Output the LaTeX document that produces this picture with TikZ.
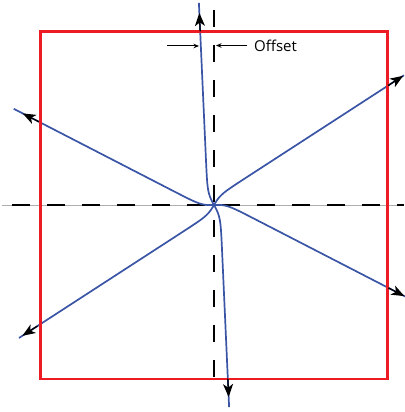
\documentclass[tikz,border=0pt]{standalone}
\usepackage{fontspec}
\setmainfont{Open Sans}
\usetikzlibrary{arrows.meta}
\definecolor{rbox}{RGB}{237,28,36}
\definecolor{cblue}{RGB}{58,84,166}
\definecolor{lgray}{RGB}{175,175,175}
% named point on an offset curve: name ex ey d s u
\newcommand\setcpt[6]{\coordinate (#1) at ({214+(#6)*#2+#4*tanh(max(-4,min(4,(#6)/#5)))*#3},{205+(#6)*#3-#4*tanh(max(-4,min(4,(#6)/#5)))*#2});}
\newcommand\offcurve[6]{%
  \draw[curve] plot[domain=#5:#6, samples=320] ({214+\x*#1+#3*tanh(max(-4,min(4,\x/#4)))*#2},{205+\x*#2-#3*tanh(max(-4,min(4,\x/#4)))*#1});}
\begin{document}
\begin{tikzpicture}[x=1pt,y=-1pt,
  curve/.style={cblue, line width=1.7pt},
  tipline/.style={black, line width=1.3pt, -{Stealth[length=13pt,width=10pt,inset=3.5pt]}},
  offarrow/.style={black, line width=1pt, -{Stealth[length=5.5pt,width=4.5pt]}},
  axisdash/.style={black, line width=1.6pt},
  frame/.style={rbox, line width=2.2pt},
  lbl/.style={font=\fontsize{15}{17}\selectfont, inner sep=0pt, anchor=west}]
\useasboundingbox (0,0) rectangle (404,412);
% dashed axes
\draw[lgray, line width=0.7pt] (2,205) -- (404,205);
\draw[axisdash, dash pattern=on 18pt off 17pt] (12,205) -- (404,205);
\draw[axisdash, dash pattern=on 17pt off 18pt] (214,10) -- (214,378);
% blue curves
\offcurve{0.889}{0.458}{6.2}{11}{-222}{212}
\offcurve{0.839}{-0.544}{5.5}{11}{-236}{230}
\offcurve{0.045}{0.999}{6}{12}{-202.5}{202.5}
% frame
\draw[frame] (40.5,31.5) -- (387.5,31.5) -- (387.5,379) -- (40.5,379) -- cycle;
% arrow heads
\setcpt{a1s}{0.889}{0.458}{6.2}{11}{-194}
\setcpt{a1t}{0.889}{0.458}{6.2}{11}{-212}
\setcpt{a2s}{0.889}{0.458}{6.2}{11}{193}
\setcpt{a2t}{0.889}{0.458}{6.2}{11}{211}
\setcpt{b1s}{0.839}{-0.544}{5.5}{11}{-214}
\setcpt{b1t}{0.839}{-0.544}{5.5}{11}{-232}
\setcpt{b2s}{0.839}{-0.544}{5.5}{11}{211}
\setcpt{b2t}{0.839}{-0.544}{5.5}{11}{229}
\setcpt{c1s}{0.045}{0.999}{6}{12}{-174}
\setcpt{c1t}{0.045}{0.999}{6}{12}{-192.5}
\setcpt{c2s}{0.045}{0.999}{6}{12}{174}
\setcpt{c2t}{0.045}{0.999}{6}{12}{192.5}
\draw[tipline] (a1s) -- (a1t);
\draw[tipline] (a2s) -- (a2t);
\draw[tipline] (b1s) -- (b1t);
\draw[tipline] (b2s) -- (b2t);
\draw[tipline] (c1s) -- (c1t);
\draw[tipline] (c2s) -- (c2t);
% offset label
\coordinate (o1s) at (167,46);
\coordinate (o1t) at (199,46);
\coordinate (o2s) at (247,45.5);
\coordinate (o2t) at (216,45.5);
\draw[offarrow] (o1s) -- (o1t);
\draw[offarrow] (o2s) -- (o2t);
\node[lbl] (off) at (254,46) {Offset};
\end{tikzpicture}
\end{document}
